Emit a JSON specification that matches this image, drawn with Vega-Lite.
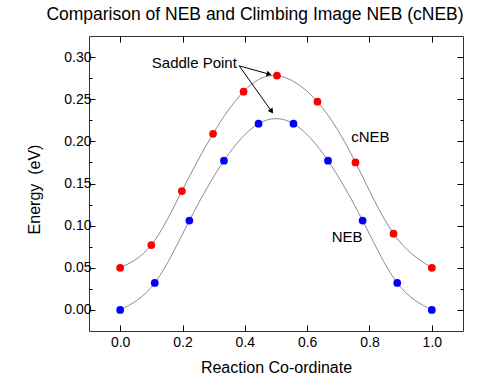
{
  "$schema": "https://vega.github.io/schema/vega-lite/v6.json",
  "width": 374,
  "height": 295,
  "autosize": "none",
  "padding": {"left": 89, "top": 36, "right": 34, "bottom": 51},
  "title": {"text": "Comparison of NEB and Climbing Image NEB (cNEB)", "fontSize": 17.5, "font": "Liberation Sans", "fontWeight": "normal", "anchor": "middle", "dx": -21, "offset": 12, "color": "#000"},
  "config": {
    "view": {"stroke": "#333", "strokeWidth": 1},
    "font": "Liberation Sans",
    "axis": {"grid": false, "domain": false, "tickColor": "#000", "tickWidth": 1, "labelFont": "Liberation Sans", "titleFont": "Liberation Sans", "labelColor": "#000", "titleColor": "#000", "labelFontSize": 14, "titleFontSize": 16, "titleFontWeight": "normal"}
  },
  "datasets": {
    "curves": [
      {"series": "NEB", "x": 0.0, "y": 0.0},
      {"series": "NEB", "x": 0.111, "y": 0.032},
      {"series": "NEB", "x": 0.222, "y": 0.106},
      {"series": "NEB", "x": 0.333, "y": 0.177},
      {"series": "NEB", "x": 0.444, "y": 0.221},
      {"series": "NEB", "x": 0.556, "y": 0.221},
      {"series": "NEB", "x": 0.667, "y": 0.177},
      {"series": "NEB", "x": 0.778, "y": 0.106},
      {"series": "NEB", "x": 0.889, "y": 0.032},
      {"series": "NEB", "x": 1.0, "y": 0.0},
      {"series": "cNEB", "x": 0.0, "y": 0.05},
      {"series": "cNEB", "x": 0.1, "y": 0.077},
      {"series": "cNEB", "x": 0.198, "y": 0.141},
      {"series": "cNEB", "x": 0.298, "y": 0.209},
      {"series": "cNEB", "x": 0.396, "y": 0.259},
      {"series": "cNEB", "x": 0.503, "y": 0.278},
      {"series": "cNEB", "x": 0.633, "y": 0.247},
      {"series": "cNEB", "x": 0.755, "y": 0.175},
      {"series": "cNEB", "x": 0.877, "y": 0.0905},
      {"series": "cNEB", "x": 1.0, "y": 0.05}
    ],
    "labels": [
      {"text": "Saddle Point", "x": 0.238, "y": 0.2925},
      {"text": "cNEB", "x": 0.803, "y": 0.2048},
      {"text": "NEB", "x": 0.728, "y": 0.0864}
    ],
    "arrows": [
      {"id": "a1", "x": 0.382, "y": 0.2896, "x2": 0.478, "y2": 0.2797},
      {"id": "a2", "x": 0.382, "y": 0.2896, "x2": 0.486, "y2": 0.2355}
    ]
  },
  "layer": [
    {
      "data": {"name": "curves"},
      "mark": {"type": "line", "interpolate": "natural", "color": "#8c8c8c", "strokeWidth": 1},
      "encoding": {
        "x": {"field": "x", "type": "quantitative", "scale": {"domain": [-0.1, 1.1], "nice": false, "zero": false},
              "axis": {"orient": "bottom", "values": [0, 0.2, 0.4, 0.6, 0.8, 1.0], "format": ".1f", "tickSize": -6, "labelPadding": 10, "title": "Reaction Co-ordinate", "titlePadding": 10}},
        "y": {"field": "y", "type": "quantitative", "scale": {"domain": [-0.025, 0.325], "nice": false, "zero": false},
              "axis": {"orient": "left", "values": [0, 0.05, 0.1, 0.15, 0.2, 0.25, 0.3], "format": ".2f", "tickSize": -6, "labelPadding": 4, "title": "Energy\u00a0 (eV)", "titlePadding": 21, "titleY": 153}},
        "detail": {"field": "series"}
      }
    },
    {
      "data": {"name": "curves"},
      "mark": {"type": "circle", "opacity": 1, "size": 60},
      "encoding": {
        "x": {"field": "x", "type": "quantitative",
              "axis": {"orient": "top", "values": [0, 0.2, 0.4, 0.6, 0.8, 1.0], "labels": false, "tickSize": -6, "title": null}},
        "y": {"field": "y", "type": "quantitative",
              "axis": {"orient": "right", "values": [0, 0.05, 0.1, 0.15, 0.2, 0.25, 0.3], "labels": false, "tickSize": -6, "title": null}},
        "color": {"field": "series", "type": "nominal", "scale": {"domain": ["cNEB", "NEB"], "range": ["#ff0000", "#0000ff"]}, "legend": null}
      }
    },
    {
      "data": {"name": "labels"},
      "mark": {"type": "text", "font": "Liberation Sans", "fontSize": 15, "color": "#000", "align": "center", "baseline": "middle"},
      "encoding": {
        "x": {"field": "x", "type": "quantitative", "axis": null},
        "y": {"field": "y", "type": "quantitative",
              "axis": {"orient": "left", "values": [0.025, 0.075, 0.125, 0.175, 0.225, 0.275], "labels": false, "tickSize": -3, "title": null}},
        "text": {"field": "text"}
      }
    },
    {
      "data": {"name": "arrows"},
      "mark": {"type": "rule", "color": "#000", "strokeWidth": 1},
      "encoding": {
        "x": {"field": "x", "type": "quantitative", "axis": null},
        "y": {"field": "y", "type": "quantitative",
              "axis": {"orient": "right", "values": [0.025, 0.075, 0.125, 0.175, 0.225, 0.275], "labels": false, "tickSize": -3, "title": null}},
        "x2": {"field": "x2"},
        "y2": {"field": "y2"}
      }
    },
    {
      "data": {"name": "arrows"},
      "transform": [{"filter": "datum.id === 'a1'"}],
      "mark": {"type": "point", "shape": "triangle-right", "filled": true, "color": "#000", "opacity": 1, "size": 35, "angle": 16},
      "encoding": {
        "x": {"field": "x2", "type": "quantitative", "axis": null},
        "y": {"field": "y2", "type": "quantitative", "axis": null}
      }
    },
    {
      "data": {"name": "arrows"},
      "transform": [{"filter": "datum.id === 'a2'"}],
      "mark": {"type": "point", "shape": "triangle-right", "filled": true, "color": "#000", "opacity": 1, "size": 35, "angle": 54},
      "encoding": {
        "x": {"field": "x2", "type": "quantitative", "axis": null},
        "y": {"field": "y2", "type": "quantitative", "axis": null}
      }
    }
  ],
  "resolve": {"axis": {"x": "independent", "y": "independent"}}
}
